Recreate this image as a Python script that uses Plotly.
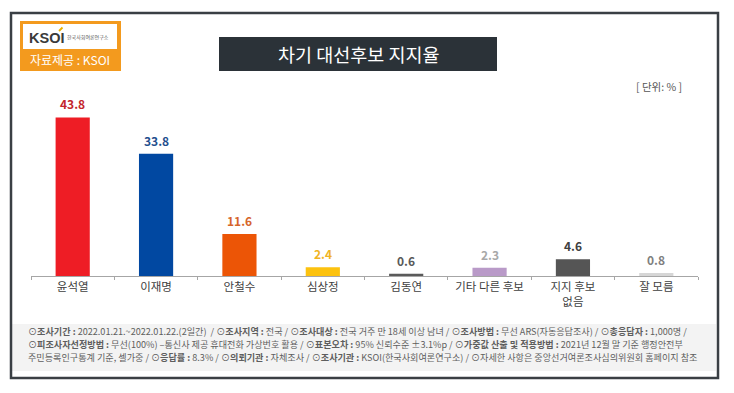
import plotly.graph_objects as go

categories = ["윤석열", "이재명", "안철수", "심상정", "김동연", "기타 다른 후보", "지지 후보<br>없음", "잘 모름"]
values = [43.8, 33.8, 11.6, 2.4, 0.6, 2.3, 4.6, 0.8]
value_labels = ["43.8", "33.8", "11.6", "2.4", "0.6", "2.3", "4.6", "0.8"]
bar_colors = ["#ee1d25", "#0148a1", "#ec5506", "#fcc20f", "#5a5a5a", "#b99ac8", "#555555", "#d6d6d6"]
label_colors = ["#c3262d", "#1f4f8e", "#d6652b", "#f0b424", "#595959", "#a8a8a8", "#404040", "#7f7f7f"]

title_text = "차기 대선후보 지지율"
unit_text = "[ 단위: % ]"
source_text = "자료제공 : KSOI"
footer_lines = [
    "⊙<b>조사기간 :</b> 2022.01.21.~2022.01.22.(2일간)  / ⊙<b>조사지역 :</b> 전국 / ⊙<b>조사대상 :</b> 전국 거주 만 18세 이상 남녀 / ⊙<b>조사방법 :</b> 무선 ARS(자동응답조사) / ⊙<b>총응답자 :</b> 1,000명 /",
    "⊙<b>피조사자선정방법 :</b> 무선(100%) –통신사 제공 휴대전화 가상번호 활용 / ⊙<b>표본오차 :</b> 95% 신뢰수준 ±3.1%p / ⊙<b>가중값 산출 및 적용방법 :</b> 2021년 12월 말 기준 행정안전부",
    "주민등록인구통계 기준, 셀가중 / ⊙<b>응답률 :</b> 8.3% / ⊙<b>의뢰기관 :</b> 자체조사 / ⊙<b>조사기관 :</b> KSOI(한국사회여론연구소) / ⊙자세한 사항은 중앙선거여론조사심의위원회 홈페이지 참조",
]

# page body has an 8px default margin; figure sized so it fits the 734x393 window
OFF = 8
W, H = 734 - OFF, 393 - OFF
ML, MR, MT, MB = 31 - OFF, 36, 95 - OFF, 117
PW, PH = W - ML - MR, H - MT - MB

def px(x):  # page pixel -> paper fraction
    return (x - OFF - ML) / PW

def py(y):
    return (H - MB - (y - OFF)) / PH

FONT = "Noto Sans CJK KR"

fig = go.Figure()
fig.add_trace(go.Bar(
    x=categories, y=values, marker=dict(color=bar_colors, line=dict(width=0)),
    width=0.41, hoverinfo="skip",
))

annotations = []
for c, v, t, col in zip(categories, values, value_labels, label_colors):
    annotations.append(dict(x=c, y=v, xref="x", yref="y", text=f"<b>{t}</b>", showarrow=False,
                            yanchor="bottom", yshift=3, font=dict(size=12, color=col, family=FONT)))

shapes = [
    # footer background
    dict(type="rect", xref="paper", yref="paper", x0=px(12), x1=px(716), y0=py(324), y1=py(371),
         fillcolor="#f3f3f3", line=dict(width=0), layer="below"),
    # outer frame
    dict(type="rect", xref="paper", yref="paper", x0=px(11), x1=px(718), y0=py(13), y1=py(378),
         line=dict(color="#3a3f44", width=2.5), fillcolor="rgba(0,0,0,0)"),
    # logo orange box
    dict(type="rect", xref="paper", yref="paper", x0=px(20), x1=px(121), y0=py(21), y1=py(71),
         fillcolor="#f39a1e", line=dict(width=0)),
    dict(type="rect", xref="paper", yref="paper", x0=px(23), x1=px(117), y0=py(24), y1=py(49),
         fillcolor="#ffffff", line=dict(width=0)),
    # logo accent
    dict(type="line", xref="paper", yref="paper", x0=px(59), x1=px(62.5), y0=py(31), y1=py(27.5),
         line=dict(color="#e8b000", width=1.8)),
    # title box
    dict(type="rect", xref="paper", yref="paper", x0=px(219), x1=px(497), y0=py(37), y1=py(71),
         fillcolor="#2b3238", line=dict(width=0)),
]

annotations += [
    dict(x=px(358), y=py(54), xref="paper", yref="paper", text=title_text, showarrow=False,
         font=dict(size=18.5, color="#ffffff", family=FONT), xanchor="center", yanchor="middle"),
    dict(x=px(684), y=py(86), xref="paper", yref="paper", text=unit_text, showarrow=False,
         font=dict(size=10.5, color="#555555", family=FONT), xanchor="right", yanchor="middle"),
    dict(x=px(70), y=py(60), xref="paper", yref="paper", text=source_text, showarrow=False,
         font=dict(size=12, color="#ffffff", family=FONT), xanchor="center", yanchor="middle"),
    dict(x=px(27), y=py(38), xref="paper", yref="paper", text="<b>KSOI</b>", showarrow=False,
         font=dict(size=14.5, color="#3a3a3a", family="Liberation Sans"), xanchor="left", yanchor="middle"),
    dict(x=px(65), y=py(37), xref="paper", yref="paper", text="한국사회여론연구소", showarrow=False,
         font=dict(size=5, color="#555555", family=FONT), xanchor="left", yanchor="middle"),
]

for i, line in enumerate(footer_lines):
    annotations.append(dict(x=px(27), y=py(331 + i * 13.2), xref="paper", yref="paper", text=line,
                            showarrow=False, xanchor="left", yanchor="middle", borderpad=0,
                            font=dict(size=9.1, color="#5e5e5e", family=FONT)))

fig.update_layout(
    width=W, height=H, margin=dict(l=ML, r=MR, t=MT, b=MB, autoexpand=False),
    paper_bgcolor="#ffffff", plot_bgcolor="#ffffff", showlegend=False,
    font=dict(family=FONT),
    xaxis=dict(showgrid=False, showline=True, linecolor="#a6a6a6", linewidth=1,
               ticks="outside", tickson="boundaries", ticklen=3, tickcolor="#a6a6a6",
               tickangle=0, automargin=False,
               tickfont=dict(size=11.5, color="#404040", family=FONT), fixedrange=True),
    yaxis=dict(range=[0, 50], visible=False, fixedrange=True, automargin=False),
    shapes=shapes, annotations=annotations, bargap=0.59,
)

fig.write_html("out.html")
